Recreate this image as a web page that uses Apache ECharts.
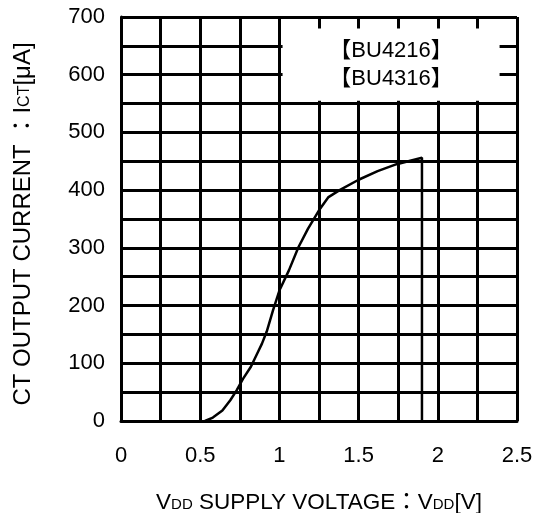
<!DOCTYPE html>
<html>
<head>
<meta charset="utf-8">
<script src="https://cdn.jsdelivr.net/npm/echarts@6/dist/echarts.min.js"></script>
<style>
html,body{margin:0;padding:0;background:#fff;}
#chart{width:534px;height:513px;}
</style>
</head>
<body>
<div id="chart"></div>
<script>
var supplyVoltage = [0.53, 0.58, 0.64, 0.69, 0.73, 0.77, 0.82, 0.86, 0.89, 0.92, 0.96, 1.0, 1.06, 1.12, 1.18, 1.25, 1.31, 1.38, 1.5, 1.62, 1.74, 1.9, 1.9];
var outputCurrent = [0, 6, 18, 36, 53, 73, 94, 117, 134, 155, 192, 226, 261, 301, 333, 365, 388, 400, 418, 433, 445, 456, 0];
var legendLines = ['【BU4216】', '【BU4316】'];
var xTitle = ['V', 'DD', ' SUPPLY VOLTAGE：V', 'DD', '[V]'];
var yTitle = ['CT OUTPUT CURRENT ：I', 'CT', '[μA]'];

var FONT = '"Liberation Sans", Arial, "Noto Sans CJK JP", sans-serif';
var points = supplyVoltage.map(function (v, i) { return [v, outputCurrent[i]]; });

var chart = echarts.init(document.getElementById('chart'), null, {renderer: 'canvas'});
var gridLine = {show: true, lineStyle: {color: '#000', width: 3, type: 'solid'}};
function richSet(big, small) {
  return {
    n: {fontSize: big, fontFamily: FONT, color: '#000', verticalAlign: 'bottom'},
    s: {fontSize: small, fontFamily: FONT, color: '#000', verticalAlign: 'bottom', padding: [0, 0, 2, 0]}
  };
}
chart.setOption({
  backgroundColor: '#fff',
  animation: false,
  grid: {left: 121, right: 17, top: 17, bottom: 92, containLabel: false, outerBoundsMode: 'none'},
  xAxis: {
    type: 'value', min: 0, max: 2.5, interval: 0.5,
    axisLine: {show: true, lineStyle: {color: '#000', width: 3}},
    axisTick: {show: false},
    splitLine: gridLine,
    minorTick: {show: false, splitNumber: 2},
    minorSplitLine: gridLine,
    axisLabel: {fontSize: 22, fontFamily: FONT, color: '#000', margin: 24},
    name: '{n|' + xTitle[0] + '}{s|' + xTitle[1] + '}{n|' + xTitle[2] + '}{s|' + xTitle[3] + '}{n|' + xTitle[4] + '}',
    nameLocation: 'middle', nameGap: 71,
    nameTextStyle: {rich: richSet(22.5, 15)}
  },
  yAxis: {
    type: 'value', min: 0, max: 700, interval: 100,
    axisLine: {show: true, lineStyle: {color: '#000', width: 3}},
    axisTick: {show: false},
    splitLine: gridLine,
    minorTick: {show: false, splitNumber: 2},
    minorSplitLine: gridLine,
    axisLabel: {fontSize: 22, fontFamily: FONT, color: '#000', margin: 16},
    name: '{n|' + yTitle[0] + '}{s|' + yTitle[1] + '}{n|' + yTitle[2] + '}',
    nameLocation: 'middle', nameGap: 86,
    nameTextStyle: {rich: richSet(24, 16), padding: [0, 10, 0, 0]}
  },
  series: [{
    type: 'line',
    data: points,
    symbol: 'none',
    lineStyle: {color: '#000', width: 2.5},
    z: 5,
    markArea: {
      silent: true,
      itemStyle: {color: '#fff', opacity: 1},
      label: {
        show: true, position: 'inside',
        formatter: legendLines.join('\n'),
        fontSize: 22, lineHeight: 28, fontFamily: FONT, color: '#000'
      },
      data: [[{xAxis: 1.02, yAxis: 680}, {xAxis: 2.39, yAxis: 555}]]
    }
  }]
});
</script>
</body>
</html>
